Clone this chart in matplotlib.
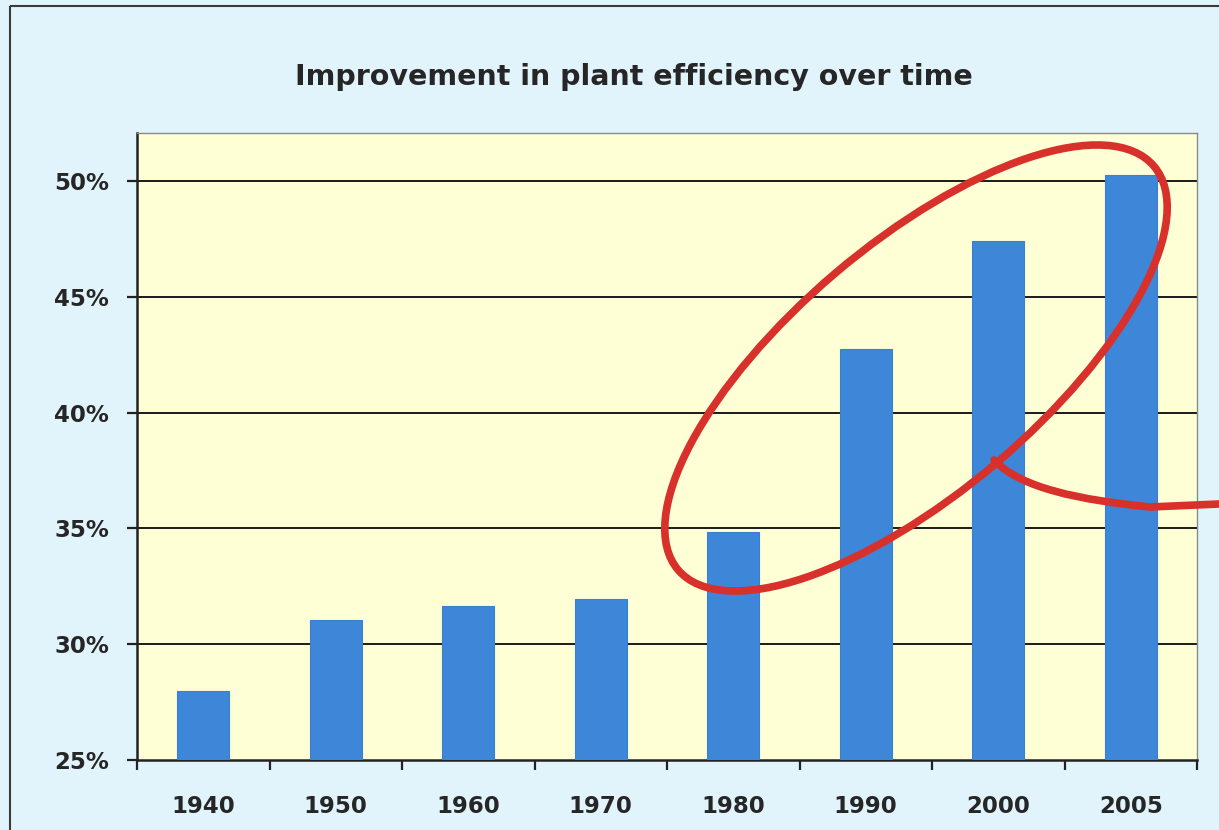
import matplotlib
matplotlib.use("Agg")
import matplotlib.pyplot as plt
from matplotlib.patches import Ellipse, Rectangle
from matplotlib.path import Path
from matplotlib.patches import PathPatch
from matplotlib.ticker import FixedLocator, FuncFormatter

# ---- data ----
years = ["1940", "1950", "1960", "1970", "1980", "1990", "2000", "2005"]
efficiency = [28.0, 31.05, 31.65, 31.95, 34.85, 42.75, 47.4, 50.25]
y_ticks = [25, 30, 35, 40, 45, 50]
title = "Improvement in plant efficiency over time"

W, H = 1219, 830
fig = plt.figure(figsize=(W / 100, H / 100), dpi=100)
fig.patch.set_facecolor("#e2f4fb")

ax = fig.add_axes([137 / W, 1 - 760 / H, (1197 - 137) / W, (760 - 133) / H])
ax.set_facecolor("#ffffd6")

x = list(range(len(years)))
ax.bar(x, [v - 25 for v in efficiency], bottom=25, width=0.39,
       color="#3e86d8", edgecolor="#3a7fd0", linewidth=0.8, zorder=3)

ax.set_xlim(-0.5, len(years) - 0.5)
ax.set_ylim(25, 52.07)

ax.set_yticks(y_ticks)
ax.yaxis.set_major_formatter(FuncFormatter(lambda v, p: f"{int(v)}%"))
for t in y_ticks[1:]:
    ax.axhline(t, color="#1a1a1a", linewidth=1.4, zorder=2)

ax.set_xticks(x)
ax.set_xticklabels(years)
ax.xaxis.set_minor_locator(FixedLocator([i - 0.5 for i in range(len(years) + 1)]))

ax.tick_params(axis="x", which="major", length=0, pad=25)
ax.tick_params(axis="x", which="minor", length=7, width=1.6, color="#222222", direction="out")
ax.tick_params(axis="y", which="major", length=7, width=1.6, color="#222222", pad=13)

for lab in ax.get_xticklabels() + ax.get_yticklabels():
    lab.set_fontsize(16.5)
    lab.set_fontweight("heavy")
    lab.set_color("#262626")

for side in ("left", "bottom"):
    ax.spines[side].set_color("#222222")
    ax.spines[side].set_linewidth(1.8)
for side in ("top", "right"):
    ax.spines[side].set_color("#8a8a8a")
    ax.spines[side].set_linewidth(1.0)

fig.text(634 / W, 1 - 77 / H, title, ha="center", va="center",
         fontsize=20.5, fontweight="heavy", color="#262626")

# ---- overlay in pixel coordinates for annotation ----
ov = fig.add_axes([0, 0, 1, 1], facecolor="none")
ov.set_xlim(0, W)
ov.set_ylim(H, 0)
ov.axis("off")

ov.add_patch(Rectangle((10, 6), W + 20, H + 20, fill=False,
                       edgecolor="#3a3a3a", linewidth=1.5))

ov.add_patch(Ellipse((916, 368), 624, 249, angle=-40.3, fill=False,
                     edgecolor="#d8302a", linewidth=5.5, zorder=5))

verts = [(994, 460), (1020, 488), (1080, 500), (1150, 507), (1219, 504)]
codes = [Path.MOVETO, Path.CURVE4, Path.CURVE4, Path.CURVE4, Path.LINETO]
ov.add_patch(PathPatch(Path(verts, codes), fill=False, edgecolor="#d8302a",
                       linewidth=5.5, capstyle="round", zorder=5))

fig.savefig("out.png", dpi=100, facecolor=fig.get_facecolor())
